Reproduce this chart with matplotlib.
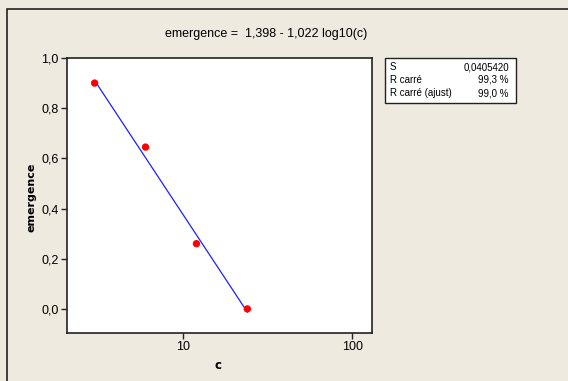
import matplotlib.pyplot as plt
import matplotlib.ticker as mticker
from matplotlib.patches import Rectangle
import numpy as np

plt.rcParams['font.family'] = ['Liberation Sans', 'DejaVu Sans']

# data
c = [3, 6, 12, 24]
emergence = [0.90, 0.645, 0.26, 0.0]
intercept, slope = 1.398, -1.022
stats_labels = ['S', 'R carré', 'R carré (ajust)']
stats_values = ['0,0405420', '99,3 %', '99,0 %']

W, H = 568, 381
bg = '#EEEAE0'
fig = plt.figure(figsize=(W / 100, H / 100), dpi=100, facecolor=bg)

# outer frame (right/bottom off-image)
fig.patches.append(Rectangle((7 / W, -0.01), 1.0, 1 - 9 / H + 0.01, transform=fig.transFigure,
                             fill=False, edgecolor='#222222', lw=1.2))

ax = fig.add_axes([67 / W, 1 - 333 / H, (372 - 67) / W, (333 - 58) / H])
ax.set_facecolor('white')

xs = np.linspace(min(c), max(c), 50)
ax.plot(xs, intercept + slope * np.log10(xs), color='#1f1fff', lw=0.9, zorder=2)
ax.scatter(c, emergence, s=28, color='#ff0000', edgecolors='none', zorder=3)

ax.set_xscale('log')
ax.set_xlim(2.06, 131)
ax.set_ylim(-0.096, 1.0)
ax.xaxis.set_major_locator(mticker.FixedLocator([10, 100]))
ax.xaxis.set_minor_locator(mticker.NullLocator())
ax.xaxis.set_major_formatter(mticker.FuncFormatter(lambda v, p: f'{v:g}'))
ax.set_yticks([0.0, 0.2, 0.4, 0.6, 0.8, 1.0])
ax.yaxis.set_major_formatter(mticker.FuncFormatter(lambda v, p: f'{v:.1f}'.replace('.', ',')))
ax.tick_params(direction='out', length=4, width=1, labelsize=9, color='#222222', pad=2)
for s in ax.spines.values():
    s.set_color('#222222')
    s.set_linewidth(1.2)

ax.set_xlabel('c', fontsize=8.5, fontweight='bold', family='DejaVu Sans')
ax.set_ylabel('emergence', fontsize=8, fontweight='bold', family='DejaVu Sans')
ax.xaxis.set_label_coords(0.495, -0.095)
ax.yaxis.set_label_coords(-0.101, 0.495)

fig.text(266 / W, 1 - 34 / H, 'emergence =  1,398 - 1,022 log10(c)', ha='center', va='center', fontsize=9)

# stats box
fig.patches.append(Rectangle((385 / W, 1 - 103 / H), (516 - 385) / W, 45 / H, transform=fig.transFigure,
                             facecolor='white', edgecolor='#222222', lw=1.0))
for i, (lab, val) in enumerate(zip(stats_labels, stats_values)):
    y = 1 - (67 + i * 13) / H
    fig.text(390 / W, y, lab, ha='left', va='center', fontsize=7)
    fig.text(509 / W, y, val, ha='right', va='center', fontsize=7)

fig.savefig('out.png', dpi=100, facecolor=bg)
